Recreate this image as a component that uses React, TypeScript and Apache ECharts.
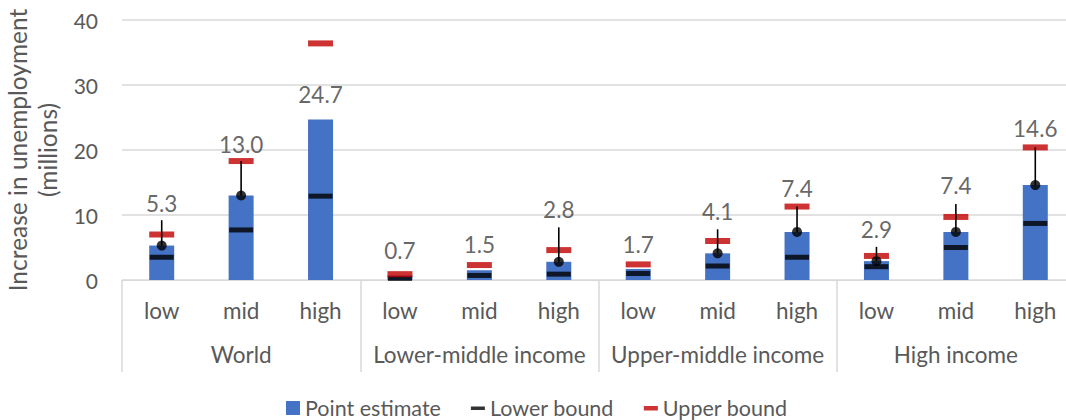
import React, { useEffect, useRef } from "react";
import * as echarts from "echarts";

const scenarios = ["low", "mid", "high", "low", "mid", "high", "low", "mid", "high", "low", "mid", "high"];
const groups = ["World", "Lower-middle income", "Upper-middle income", "High income"];
const pointEstimate = [5.3, 13.0, 24.7, 0.7, 1.5, 2.8, 1.7, 4.1, 7.4, 2.9, 7.4, 14.6];
const lowerBound = [3.5, 7.7, 12.9, 0.25, 0.7, 0.9, 1.0, 2.15, 3.5, 2.05, 5.0, 8.7];
const upperBound = [7.0, 18.3, 36.4, 0.9, 2.3, 4.6, 2.4, 6.0, 11.3, 3.7, 9.7, 20.4];
// value where each moved data label sits, and where its leader line ends (null: no leader)
const labelAnchor = [11.8, 20.8, 28.5, 4.6, 5.4, 10.9, 5.5, 10.6, 14.1, 7.8, 14.6, 23.3];
const leaderEnd: (number | null)[] = [9.2, 18.3, null, null, null, 8.1, null, 7.8, 11.3, 5.1, 11.7, 20.4];
const yTicks = { min: 0, max: 40, interval: 10 };

const FONT = "Lato";
const TEXT = "#595959";
const GRID = "#d9d9d9";

export default function App() {
  const ref = useRef<HTMLDivElement>(null);
  useEffect(() => {
    if (!ref.current) return;
    const chart = echarts.init(ref.current, undefined, { renderer: "svg" });
    const leaderData = leaderEnd
      .map((e, i) => (e == null ? null : [i, pointEstimate[i], e]))
      .filter((d) => d !== null) as number[][];
    const dotData = leaderData.map((d) => [d[0], d[1]]);
    chart.setOption({
      animation: false,
      textStyle: { fontFamily: FONT },
      grid: { left: 122, right: 1, top: 20, bottom: 140, outerBoundsMode: "none", containLabel: false },
      legend: {
        bottom: -4,
        left: 281,
        itemWidth: 14,
        itemHeight: 14,
        itemGap: 30,
        textStyle: { fontSize: 21.5, color: TEXT, fontFamily: FONT },
        data: [
          { name: "Point estimate", icon: "rect" },
          { name: "Lower bound", icon: "path://M0,0M0,5.5h14v3.5h-14zM14,14" },
          { name: "Upper bound", icon: "path://M0,0M0,5h14v4.5h-14zM14,14" },
        ],
      },
      xAxis: [
        {
          type: "category",
          data: scenarios,
          axisLine: { lineStyle: { color: GRID, width: 1 } },
          axisTick: { show: false },
          axisLabel: { interval: 0, fontSize: 22.5, color: TEXT, margin: 19, fontFamily: FONT },
        },
        {
          type: "category",
          data: groups,
          position: "bottom",
          axisLine: { show: false },
          axisTick: { show: true, interval: 0, length: 92, lineStyle: { color: GRID, width: 1.5 } },
          axisLabel: { interval: 0, fontSize: 22.5, color: TEXT, margin: 63, fontFamily: FONT },
        },
      ],
      yAxis: {
        type: "value",
        min: yTicks.min,
        max: yTicks.max,
        interval: yTicks.interval,
        name: "Increase in unemployment\n(millions)",
        nameLocation: "middle",
        nameRotate: 90,
        nameGap: 52,
        nameTextStyle: { fontSize: 24.5, color: TEXT, lineHeight: 30, fontFamily: FONT },
        axisLine: { show: false },
        axisTick: { show: false },
        axisLabel: { fontSize: 21, color: TEXT, margin: 24, fontFamily: FONT },
        splitLine: { lineStyle: { color: GRID, width: 1.5 } },
      },
      series: [
        {
          name: "Point estimate",
          type: "bar",
          data: pointEstimate,
          barWidth: 25,
          itemStyle: { color: "#4472C4" },
          z: 1,
        },
        {
          name: "Lower bound",
          type: "scatter",
          data: lowerBound.map((v, i) => [i, v]),
          symbol: "rect",
          symbolSize: [24, 5],
          itemStyle: { color: "#000000" },
          z: 3,
        },
        {
          name: "Upper bound",
          type: "scatter",
          data: upperBound.map((v, i) => [i, v]),
          symbol: "rect",
          symbolSize: [25, 6],
          itemStyle: { color: "#C00000" },
          z: 4,
        },
        {
          name: "leader",
          type: "custom",
          data: leaderData,
          encode: { x: 0, y: [1, 2] },
          z: 5,
          silent: true,
          renderItem: (params: any, api: any) => {
            const i = api.value(0);
            const p0 = api.coord([i, api.value(1)]);
            const p1 = api.coord([i, api.value(2)]);
            return {
              type: "line",
              shape: { x1: p0[0], y1: p0[1], x2: p1[0], y2: p1[1] },
              style: { stroke: "#000000", lineWidth: 1.6 },
            };
          },
        },
        {
          name: "dot",
          type: "scatter",
          data: dotData,
          symbol: "circle",
          symbolSize: 10,
          itemStyle: { color: "#000000" },
          z: 6,
        },
        {
          name: "label",
          type: "scatter",
          data: labelAnchor.map((v, i) => [i, v]),
          symbolSize: 1,
          itemStyle: { color: "transparent" },
          z: 7,
          label: {
            show: true,
            position: "inside",
            fontSize: 22.5,
            color: "#404040",
            fontFamily: FONT,
            formatter: (p: any) => pointEstimate[p.dataIndex].toFixed(1),
          },
        },
      ],
    });
    return () => chart.dispose();
  }, []);
  return (
    <div style={{ position: "absolute", left: 0, top: 0, width: 1066, height: 420, overflow: "hidden", background: "#fff" }}>
      <div ref={ref} style={{ width: 1076, height: 420 }} />
    </div>
  );
}
